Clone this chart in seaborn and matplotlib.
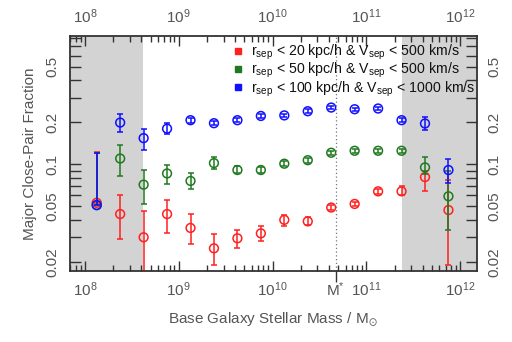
import numpy as np
import pandas as pd
import matplotlib
matplotlib.use("Agg")
import matplotlib.pyplot as plt
import matplotlib.ticker as mticker
import seaborn as sns

# ---------------- data ----------------
log_mass = [8.125, 8.375, 8.625, 8.875, 9.125, 9.375, 9.625, 9.875,
            10.125, 10.375, 10.625, 10.875, 11.125, 11.375, 11.625, 11.875]

red = [0.053, 0.044, 0.030, 0.044, 0.035, 0.025, 0.0295, 0.032,
       0.040, 0.039, 0.049, 0.052, 0.064, 0.064, 0.081, 0.047]
red_lo = [0.053, 0.029, 0.001, 0.032, 0.027, 0.019, 0.025, 0.028,
          0.036, 0.037, 0.047, 0.050, 0.061, 0.060, 0.064, 0.019]
red_hi = [0.122, 0.060, 0.046, 0.0555, 0.0437, 0.0315, 0.0338, 0.0359,
          0.043, 0.0417, 0.051, 0.054, 0.066, 0.0696, 0.090, 0.077]

green = [0.051, 0.110, 0.0715, 0.086, 0.076, 0.102, 0.091, 0.091,
         0.101, 0.107, 0.121, 0.125, 0.125, 0.125, 0.095, 0.059]
green_lo = [0.051, 0.0824, 0.0523, 0.0727, 0.0662, 0.093, 0.086, 0.087,
            0.097, 0.103, 0.117, 0.121, 0.121, 0.121, 0.085, 0.034]
green_hi = [0.12, 0.138, 0.0906, 0.0995, 0.0866, 0.112, 0.097, 0.095,
            0.105, 0.111, 0.125, 0.129, 0.129, 0.129, 0.112, 0.090]

blue = [0.051, 0.199, 0.154, 0.180, 0.207, 0.197, 0.207, 0.222,
        0.224, 0.240, 0.255, 0.248, 0.251, 0.207, 0.196, 0.091]
blue_lo = [0.051, 0.170, 0.127, 0.164, 0.199, 0.190, 0.200, 0.215,
           0.217, 0.233, 0.248, 0.241, 0.244, 0.200, 0.175, 0.073]
blue_hi = [0.120, 0.228, 0.180, 0.198, 0.215, 0.204, 0.214, 0.229,
           0.231, 0.247, 0.262, 0.255, 0.258, 0.214, 0.218, 0.109]

labels = [r"r$_{sep}$ < 20 kpc/h & V$_{sep}$ < 500 km/s",
          r"r$_{sep}$ < 50 kpc/h & V$_{sep}$ < 500 km/s",
          r"r$_{sep}$ < 100 kpc/h & V$_{sep}$ < 1000 km/s"]
colors = ["#ff2020", "#1f7a1f", "#1010ff"]

m_star = 4.7e10
shade_low = (7e7, 4.2e8)
shade_high = (2.4e11, 1.5e12)
x_ticks = [1e8, 1e9, 1e10, 1e11, 1e12]
x_ticklabels = [r"10$^{8}$", r"10$^{9}$", r"10$^{10}$", r"10$^{11}$", r"10$^{12}$"]
y_labeled = [0.02, 0.05, 0.1, 0.2, 0.5]
y_ticklabels = ["0.02", "0.05", "0.1", "0.2", "0.5"]
xlim = (10**7.84, 10**12.176)
ylim = (0.0172, 0.83)

# ---------------- figure ----------------
sns.set_theme(style="ticks")
plt.rcParams["font.family"] = ["Liberation Sans", "DejaVu Sans"]
plt.rcParams["mathtext.fontset"] = "custom"
plt.rcParams["mathtext.rm"] = "Liberation Sans"
plt.rcParams["mathtext.it"] = "Liberation Sans"
plt.rcParams["mathtext.default"] = "regular"

fig = plt.figure(figsize=(5.12, 3.42), dpi=100)
ax = fig.add_axes([0.1367, 0.2076, 0.7943, 0.6871])

ax.set_xscale("log")
ax.set_yscale("log")
ax.set_xlim(*xlim)
ax.set_ylim(*ylim)

ax.axvspan(*shade_low, color="#d3d3d3", zorder=0, lw=0)
ax.axvspan(*shade_high, color="#d3d3d3", zorder=0, lw=0)
ax.axvline(m_star, color="#777777", ls=(0, (1, 2)), lw=0.9, zorder=1)

xs = 10 ** np.array(log_mass)
series = [(red, red_lo, red_hi), (green, green_lo, green_hi), (blue, blue_lo, blue_hi)]
rows = []
for lab, (v, lo, hi) in zip(labels, series):
    for x, y in zip(xs, v):
        rows.append({"mass": x, "frac": y, "sample": lab})
df = pd.DataFrame(rows)

for i, (lab, (v, lo, hi), c) in enumerate(zip(labels, series, colors)):
    v = np.array(v); lo = np.array(lo); hi = np.array(hi)
    ax.errorbar(xs, v, yerr=[v - lo, hi - v], fmt="none", ecolor=c,
                elinewidth=1.1, capsize=2, capthick=1.1, zorder=2 + i)
    sub = df[df["sample"] == lab]
    sns.scatterplot(data=sub, x="mass", y="frac", ax=ax, marker="o",
                    s=40, facecolor="none", edgecolor=c, linewidth=1.1,
                    zorder=2.5 + i, legend=False)

# legend
handles = [plt.Line2D([], [], ls="none", marker="s", markersize=4,
                      markerfacecolor=c, markeredgecolor=c) for c in colors]
leg = ax.legend(handles, labels, loc="upper left", bbox_to_anchor=(0.400, 0.972),
                frameon=False, fontsize=10.2, handlelength=0.8, handletextpad=0.5,
                labelspacing=-0.06, borderpad=0.0, borderaxespad=0.0,
                labelcolor="#111111")

# ticks
tick_col = "#555555"
ax.xaxis.set_major_locator(mticker.FixedLocator(x_ticks))
ax.xaxis.set_minor_locator(mticker.LogLocator(base=10, subs=np.arange(2, 10), numticks=20))
ax.xaxis.set_minor_formatter(mticker.NullFormatter())
ax.set_xticklabels(x_ticklabels)

y_all = [k * 10.0**e for e in (-2, -1) for k in range(1, 10)]
ax.yaxis.set_major_locator(mticker.FixedLocator(y_labeled))
ax.yaxis.set_minor_locator(mticker.FixedLocator([t for t in y_all if t not in y_labeled]))
ax.yaxis.set_minor_formatter(mticker.NullFormatter())
ax.set_yticklabels(y_ticklabels)

ax.tick_params(which="both", direction="in", top=True, right=True,
               labeltop=True, labelright=True, colors="#333333",
               labelcolor=tick_col, labelsize=11)
ax.tick_params(axis="x", which="major", length=7, width=1, pad=7)
ax.tick_params(axis="x", which="minor", length=4, width=1)
ax.tick_params(axis="y", which="major", length=8, width=1, pad=8)
ax.tick_params(axis="y", which="minor", length=8, width=1)
for lab in ax.get_yticklabels():
    lab.set_rotation(90)
    lab.set_va("center")
for t in ax.yaxis.get_major_ticks():
    t.label2.set_rotation(90)
    t.label2.set_va("center")

for sp in ax.spines.values():
    sp.set_color("#333333")
    sp.set_linewidth(1.3)

# M* marker on bottom axis
sec = ax.secondary_xaxis("bottom")
sec.set_xticks([m_star])
sec.set_xticklabels([r"M$^{*}$"])
sec.tick_params(direction="out", length=8, width=1, pad=-1, colors="#333333",
                labelcolor=tick_col, labelsize=11)
sec.xaxis.set_minor_locator(mticker.NullLocator())
sec.spines["bottom"].set_visible(False)

ax.set_xlabel(r"Base Galaxy Stellar Mass / M$_{\odot}$", color=tick_col, fontsize=11, labelpad=8)
ax.set_ylabel("Major Close-Pair Fraction", color=tick_col, fontsize=11, labelpad=6)

fig.savefig("out.png", dpi=100)
